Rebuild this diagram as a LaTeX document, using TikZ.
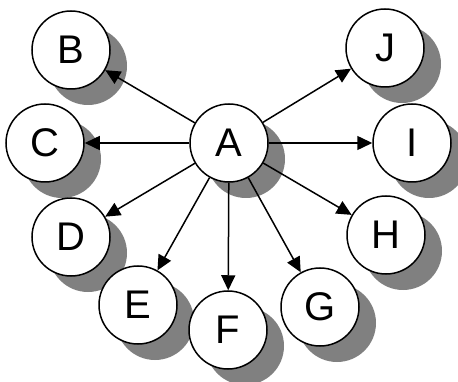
\documentclass[tikz,border=0pt]{standalone}
\usepackage{fontspec}
\setmainfont{Liberation Sans}
\usetikzlibrary{arrows.meta,backgrounds}
\tikzset{
  vtx/.style={circle, draw=black, line width=1.5pt, fill=white, minimum size=78pt, inner sep=0pt,
    font=\fontsize{40}{40}\selectfont},
  shadowdisc/.style={fill=black!50},
  edge/.style={line width=1.5pt, -{Triangle[length=15pt,width=14pt]}}
}
\begin{document}
\begin{tikzpicture}[x=1pt,y=-1pt]
\useasboundingbox (0,0) rectangle (458,382);
\node[vtx] (A) at (229,143) {A};
\node[vtx] (B) at (71,50) {B};
\node[vtx] (C) at (45,143) {C};
\node[vtx] (D) at (71,237) {D};
\node[vtx] (E) at (138,305) {E};
\node[vtx] (F) at (228,330) {F};
\node[vtx] (G) at (320,307) {G};
\node[vtx] (H) at (386,235) {H};
\node[vtx] (I) at (412,143) {I};
\node[vtx] (J) at (385,48) {J};
\begin{pgfonlayer}{background}
\foreach \n in {A,B,C,D,E,F,G,H,I,J}
  \fill[shadowdisc] ([shift={(17,16)}]\n.center) circle[radius=39pt];
\end{pgfonlayer}
\foreach \t in {B,C,D,E,F,G,H,I,J}
  \draw[edge] (A) -- (\t);
\end{tikzpicture}
\end{document}
